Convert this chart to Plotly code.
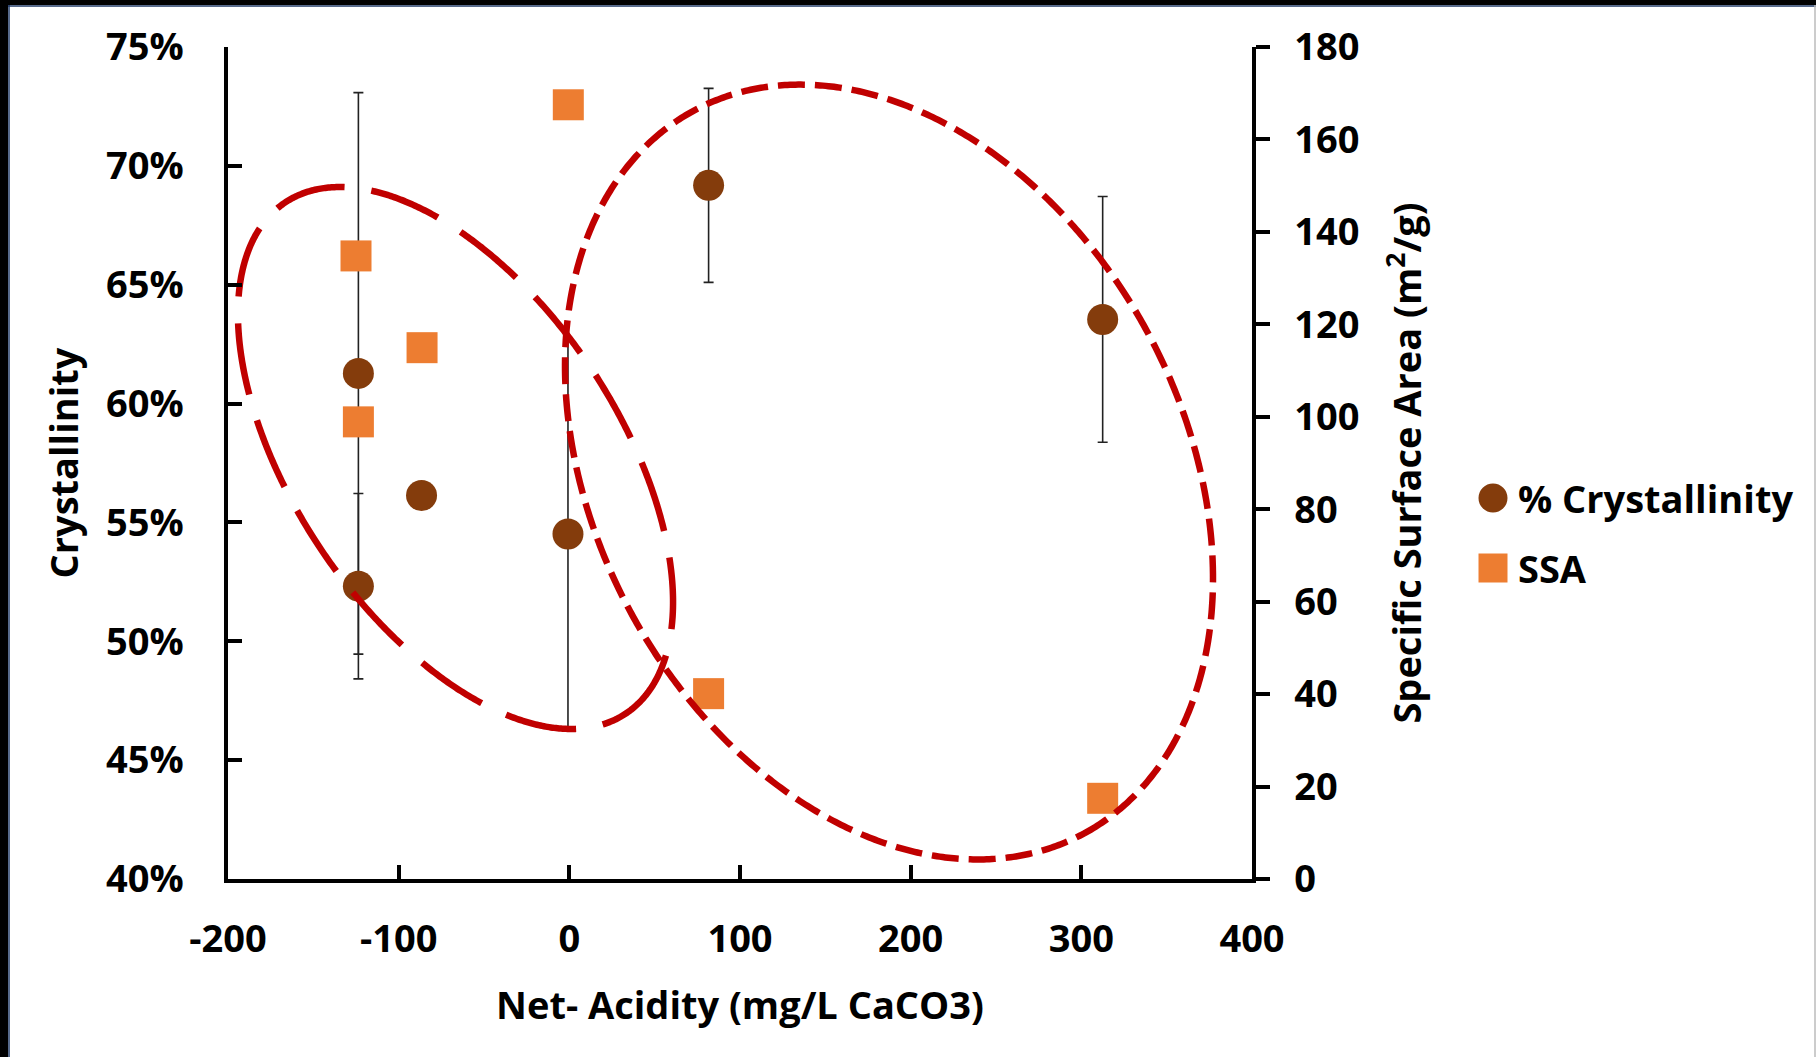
import numpy as np
import plotly.graph_objects as go

# ---------------- data ----------------
cryst_x = [-123.6, -123.6, -86.6, -0.8, 81.6, 312.5]
cryst_y = [61.27, 52.32, 56.13, 54.51, 69.18, 63.54]          # % crystallinity
cryst_err = [11.81, 3.90, 0.0, 8.20, 4.08, 5.17]

ssa_x = [-0.6, -125.0, -86.3, -123.6, 81.6, 312.5]
ssa_y = [167.5, 134.8, 114.95, 98.9, 40.1, 17.46]              # m2/g

x_ticks = [-200, -100, 0, 100, 200, 300, 400]
x_ticktext = ["-200", "-100", "0", "100", "200", "300", "400"]
y_ticks = [40, 45, 50, 55, 60, 65, 70, 75]
y_ticktext = ["40%", "45%", "50%", "55%", "60%", "65%", "70%", "75%"]
y2_ticks = [0, 20, 40, 60, 80, 100, 120, 140, 160, 180]

# ellipse groupings (centre, two conjugate semi-axis vectors, in data units: x, %)
ell1_center = [-66.7, 57.71]
ell1_u = [99.8, -10.75]
ell1_v = [79.3, 3.79]
ell2_center = [187.3, 57.12]
ell2_u = [114.4, -15.20]
ell2_v = [151.5, 5.88]

# ---------------- layout geometry ----------------
W, H = 1816, 1057
L, R, T, B = 228, 1816 - 1252, 47, 1057 - 879
PW, PH = W - L - R, H - T - B

def pxx(p):
    return (p - L) / PW

def pxy(p):
    return (H - B - p) / PH

FONT = "Open Sans"
FS = 38
font = dict(family=FONT, size=FS, color="black", weight="bold")
RED = "#C00000"
BROWN = "#843C0C"
ORANGE = "#ED7D31"

def ellipse(c, u, v, n=720):
    t = np.linspace(0, 2 * np.pi, n)
    xs = c[0] + u[0] * np.cos(t) + v[0] * np.sin(t)
    ys = c[1] + u[1] * np.cos(t) + v[1] * np.sin(t)
    return xs, ys

fig = go.Figure()

fig.add_trace(go.Scatter(
    x=cryst_x, y=cryst_y, mode="markers", name="% Crystallinity",
    marker=dict(symbol="circle", size=31, color=BROWN, line=dict(width=0)),
    error_y=dict(type="data", array=cryst_err, visible=True,
                 color="#222222", thickness=1.6, width=5),
    showlegend=False, yaxis="y"))

fig.add_trace(go.Scatter(
    x=ssa_x, y=ssa_y, mode="markers", name="SSA",
    marker=dict(symbol="square", size=31, color=ORANGE, line=dict(width=0)),
    showlegend=False, yaxis="y2"))

e1x, e1y = ellipse(ell1_center, ell1_u, ell1_v)
e2x, e2y = ellipse(ell2_center, ell2_u, ell2_v)
fig.add_trace(go.Scatter(x=e1x, y=e1y, mode="lines", yaxis="y3", showlegend=False,
                         line=dict(color=RED, width=6.5, dash="72px,27px", simplify=False),
                         hoverinfo="skip"))
fig.add_trace(go.Scatter(x=e2x, y=e2y, mode="lines", yaxis="y3", showlegend=False,
                         line=dict(color=RED, width=6.5, dash="27px,10px", simplify=False),
                         hoverinfo="skip"))

axis_common = dict(showgrid=False, zeroline=False, showline=True, linecolor="black",
                   linewidth=3.5, tickcolor="black", tickwidth=3.5, tickfont=font)

fig.update_layout(
    width=W, height=H,
    margin=dict(l=L, r=R, t=T, b=B, autoexpand=False),
    paper_bgcolor="white", plot_bgcolor="white",
    xaxis=dict(range=[-200, 400], tickvals=x_ticks, ticktext=x_ticktext, ticks="inside", ticklen=14,
               title=dict(text="Net- Acidity (mg/L CaCO3)", font=font, standoff=31),
               ticklabelstandoff=24, **axis_common),
    yaxis=dict(range=[40, 75], tickvals=y_ticks, ticktext=y_ticktext, ticks="inside", ticklen=14,
               title=dict(text="Crystallinity", font=font, standoff=17),
               ticklabelstandoff=33, **axis_common),
    yaxis2=dict(range=[0, 180], tickvals=y2_ticks, overlaying="y", side="right",
                ticks="outside", ticklen=14,
                title=dict(text="Specific Surface Area (m<sup>2</sup>/g)", font=font, standoff=37),
                ticklabelstandoff=17, **axis_common),
    yaxis3=dict(range=[40, 75], overlaying="y", visible=False),
    showlegend=False,
)

# manual legend (large markers as in the reference)
leg_x = 1493
leg_rows = [(498, "% Crystallinity", "circle", BROWN), (568, "SSA", "rect", ORANGE)]
shapes = []
annotations = []
for yy, label, shp, col in leg_rows:
    s = 14.5
    shapes.append(dict(type=shp, xref="paper", yref="paper",
                       x0=pxx(leg_x - s), x1=pxx(leg_x + s), y0=pxy(yy + s), y1=pxy(yy - s),
                       fillcolor=col, line=dict(width=0)))
    annotations.append(dict(xref="paper", yref="paper", x=pxx(1516), y=pxy(yy),
                            xanchor="left", yanchor="middle", text=label, showarrow=False,
                            font=font))

# outer frame (black band at top and left, thin line at right)
shapes += [
    dict(type="rect", xref="paper", yref="paper", x0=pxx(0), x1=pxx(8), y0=pxy(H), y1=pxy(0),
         fillcolor="black", line=dict(width=0), layer="above"),
    dict(type="rect", xref="paper", yref="paper", x0=pxx(0), x1=pxx(W), y0=pxy(5), y1=pxy(0),
         fillcolor="black", line=dict(width=0), layer="above"),
    dict(type="line", xref="paper", yref="paper", x0=pxx(9), x1=pxx(9), y0=pxy(H), y1=pxy(5),
         line=dict(color="#1F3864", width=1.5)),
    dict(type="line", xref="paper", yref="paper", x0=pxx(8), x1=pxx(W), y0=pxy(6), y1=pxy(6),
         line=dict(color="#1F3864", width=1.5)),
    dict(type="line", xref="paper", yref="paper", x0=pxx(W - 1), x1=pxx(W - 1), y0=pxy(H), y1=pxy(5),
         line=dict(color="#BBBBBB", width=1.5)),
]
fig.update_layout(shapes=shapes, annotations=annotations)

fig.write_html("out.html", config={"displayModeBar": False},
               post_script="document.body.style.margin='0';document.body.style.overflow='hidden';")
